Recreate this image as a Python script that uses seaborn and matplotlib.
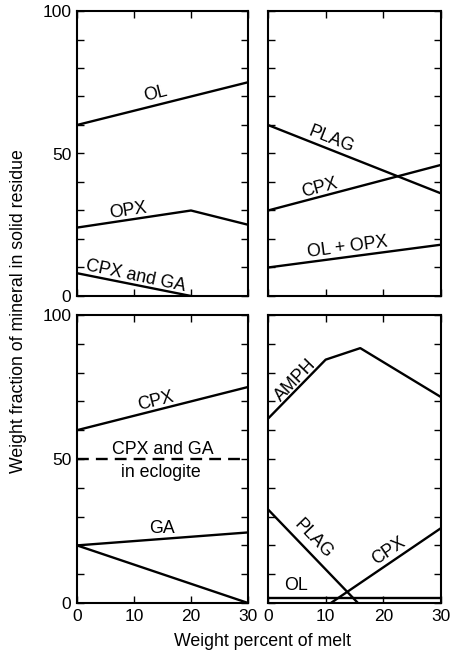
import matplotlib
matplotlib.use("Agg")
import matplotlib.pyplot as plt
import seaborn as sns
import pandas as pd

# ---- data ----
# top-left panel
tl_ol_x = [0, 30];        tl_ol_y = [60, 75]
tl_opx_x = [0, 20, 30];   tl_opx_y = [24, 30, 25]
tl_cpxga_x = [0, 20];     tl_cpxga_y = [8, 0]
# top-right panel
tr_plag_x = [0, 30];      tr_plag_y = [60, 36]
tr_cpx_x = [0, 30];       tr_cpx_y = [30, 46]
tr_olopx_x = [0, 30];     tr_olopx_y = [10, 18]
# bottom-left panel
bl_cpx_x = [0, 30];       bl_cpx_y = [60, 75]
bl_ecl_x = [0, 30];       bl_ecl_y = [50, 50]
bl_ga_x = [0, 30];        bl_ga_y = [20, 24.5]
bl_ga2_x = [0, 30];       bl_ga2_y = [20, 0]
# bottom-right panel
br_amph_x = [0, 10, 16, 30]; br_amph_y = [64, 84.5, 88.5, 71.5]
br_plag_x = [0, 15.6];       br_plag_y = [32.5, 0]
br_cpx_x = [10.9, 30];       br_cpx_y = [0, 26]
br_ol_x = [0, 30];           br_ol_y = [1.9, 1.9]

x_ticks = [0, 10, 20, 30]
y_ticks = [0, 10, 20, 30, 40, 50, 60, 70, 80, 90, 100]
y_ticklabels = ["0", "", "", "", "", "50", "", "", "", "", "100"]

sns.set_theme(style="white")
plt.rcParams['font.family'] = ['Liberation Sans', 'DejaVu Sans']

fig = plt.figure(figsize=(4.51, 6.58), dpi=100)
W, H = 451, 658
def box(l, t, r, b):
    return [l / W, 1 - b / H, (r - l) / W, (b - t) / H]

ax_tl = fig.add_axes(box(77, 11, 248, 296))
ax_tr = fig.add_axes(box(268, 11, 441, 296))
ax_bl = fig.add_axes(box(77, 315, 248, 603))
ax_br = fig.add_axes(box(268, 315, 441, 603))

LW = 1.7
def line(ax, xs, ys, dashed=False):
    df = pd.DataFrame({"x": xs, "y": ys})
    sns.lineplot(data=df, x="x", y="y", ax=ax, color="black", lw=LW,
                 sort=False, estimator=None,
                 linestyle=(0, (5, 3)) if dashed else "-")

for ax in (ax_tl, ax_tr, ax_bl, ax_br):
    ax.set_xlim(0, 30)
    ax.set_ylim(0, 100)
    for s in ax.spines.values():
        s.set_color("black")
        s.set_linewidth(1.5)
    ax.set_xticks(x_ticks)
    ax.set_yticks(y_ticks)
    ax.tick_params(direction="in", length=5, width=1.0, color="black",
                   top=True, bottom=True, left=True, right=True,
                   labelsize=12.5, labelcolor="black", pad=4)

line(ax_tl, tl_ol_x, tl_ol_y)
line(ax_tl, tl_opx_x, tl_opx_y)
line(ax_tl, tl_cpxga_x, tl_cpxga_y)
line(ax_tr, tr_plag_x, tr_plag_y)
line(ax_tr, tr_cpx_x, tr_cpx_y)
line(ax_tr, tr_olopx_x, tr_olopx_y)
line(ax_bl, bl_cpx_x, bl_cpx_y)
line(ax_bl, bl_ecl_x, bl_ecl_y, dashed=True)
line(ax_bl, bl_ga_x, bl_ga_y)
line(ax_bl, bl_ga2_x, bl_ga2_y)
line(ax_br, br_amph_x, br_amph_y)
line(ax_br, br_plag_x, br_plag_y)
line(ax_br, br_cpx_x, br_cpx_y)
line(ax_br, br_ol_x, br_ol_y)

for ax in (ax_tl, ax_tr, ax_bl, ax_br):
    ax.set_xlabel("")
    ax.set_ylabel("")
    ax.set_xlim(0, 30)
    ax.set_ylim(0, 100)

ax_tl.set_yticklabels(y_ticklabels)
ax_bl.set_yticklabels(y_ticklabels)
ax_tr.set_yticklabels([])
ax_br.set_yticklabels([])
ax_tl.set_xticklabels([])
ax_tr.set_xticklabels([])
ax_bl.set_xticklabels([str(v) for v in x_ticks])
ax_br.set_xticklabels([str(v) for v in x_ticks])

FS = 12.8
def lab(ax, x, y, s, rot=0, **kw):
    ax.text(x, y, s, rotation=rot, ha="center", va="center", fontsize=FS,
            color="black", rotation_mode="anchor", **kw)

lab(ax_tl, 13.7, 71.0, "OL", 14)
lab(ax_tl, 9.0, 30.0, "OPX", 8.5)
lab(ax_tl, 10.3, 7.0, "CPX and GA", -12)
lab(ax_tr, 11.0, 55.0, "PLAG", -21.5)
lab(ax_tr, 8.9, 38.0, "CPX", 15)
lab(ax_tr, 13.8, 17.2, "OL + OPX", 7.5)
lab(ax_bl, 13.8, 70.0, "CPX", 14)
lab(ax_bl, 15.0, 53.2, "CPX and GA")
lab(ax_bl, 14.8, 45.2, "in eclogite")
lab(ax_bl, 14.9, 25.8, "GA", 0)
lab(ax_br, 4.8, 77.2, "AMPH", 46)
lab(ax_br, 7.9, 22.3, "PLAG", -46)
lab(ax_br, 21.0, 18.0, "CPX", 34)
lab(ax_br, 4.9, 6.0, "OL", 0)

fig.text(19 / W, 1 - 311 / H, "Weight fraction of mineral in solid residue",
         rotation=90, ha="center", va="center", fontsize=FS, color="black")
fig.text(262 / W, 1 - 641 / H, "Weight percent of melt",
         ha="center", va="center", fontsize=FS, color="black")

fig.savefig("out.png", dpi=100, facecolor="white")
